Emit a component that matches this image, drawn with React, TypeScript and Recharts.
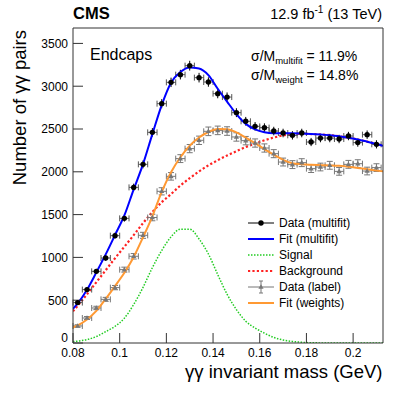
import React from "react";
import { ComposedChart, Line, Scatter, XAxis, YAxis, ErrorBar } from "recharts";

// binned data (bin width 0.004 GeV)
const binCenters = [
  0.082, 0.086, 0.09, 0.094, 0.098, 0.102, 0.106, 0.11, 0.114, 0.118, 0.122,
  0.126, 0.13, 0.134, 0.138, 0.142, 0.146, 0.15, 0.154, 0.158, 0.162, 0.166,
  0.17, 0.174, 0.178, 0.182, 0.186, 0.19, 0.194, 0.198, 0.202, 0.206, 0.21,
];
const binHalfWidth = 0.002;
const multifitCounts = [
  472, 624, 837, 993, 1254, 1456, 1818, 2087, 2461, 2796, 3045, 3135, 3240,
  3100, 3049, 2913, 2873, 2691, 2590, 2531, 2516, 2476, 2453, 2426, 2453, 2348,
  2394, 2394, 2383, 2418, 2341, 2434, 2321,
];
const multifitErrors = [
  22, 25, 29, 32, 35, 38, 43, 46, 50, 53, 55, 56, 57, 56, 55, 54, 54, 52, 51,
  50, 50, 50, 50, 49, 50, 48, 49, 49, 49, 49, 48, 49, 48,
];
const labelCounts = [
  199, 292, 409, 510, 647, 857, 1013, 1258, 1466, 1772, 1947, 2154, 2271, 2368,
  2473, 2484, 2476, 2407, 2364, 2336, 2278, 2212, 2114, 2084, 2107, 2037, 2056,
  2076, 2005, 2087, 2095, 2009, 2049,
];
const labelErrors = [
  14, 17, 20, 23, 25, 29, 32, 35, 38, 42, 44, 46, 48, 49, 50, 50, 50, 49, 49,
  48, 48, 47, 46, 46, 46, 45, 45, 46, 45, 46, 46, 45, 45,
];

// fitted curves
const curveX = [
  0.08, 0.082, 0.086, 0.09, 0.094, 0.098, 0.102, 0.106, 0.11, 0.114, 0.118,
  0.122, 0.126, 0.13, 0.134, 0.138, 0.142, 0.146, 0.15, 0.154, 0.158, 0.162,
  0.166, 0.17, 0.174, 0.178, 0.182, 0.186, 0.19, 0.194, 0.198, 0.202, 0.206,
  0.21, 0.2128,
];
const fitMultifit = [
  400, 462, 622, 825, 1035, 1262, 1490, 1795, 2090, 2440, 2780, 3040, 3165,
  3218, 3208, 3130, 2970, 2820, 2675, 2560, 2495, 2462, 2450, 2450, 2450, 2447,
  2443, 2437, 2428, 2415, 2398, 2378, 2352, 2325, 2305,
];
const signalCurve = [
  15, 22, 40, 75, 132, 195, 290, 450, 650, 880, 1080, 1240, 1330, 1330, 1215,
  1040, 800, 570, 390, 255, 175, 115, 65, 35, 18, 8, 3, 1, 0, 0, 0, 0, 0, 0, 0,
];
const backgroundCurve = [
  370, 435, 570, 710, 850, 990, 1125, 1260, 1400, 1530, 1645, 1740, 1840, 1925,
  2005, 2075, 2135, 2190, 2240, 2290, 2330, 2368, 2400, 2425, 2440, 2443, 2441,
  2436, 2428, 2415, 2398, 2378, 2352, 2325, 2305,
];
const fitWeights = [
  180, 205, 275, 375, 515, 665, 820, 1005, 1235, 1480, 1765, 1995, 2170, 2305,
  2400, 2465, 2500, 2498, 2460, 2400, 2335, 2265, 2200, 2140, 2100, 2088, 2082,
  2078, 2075, 2070, 2060, 2045, 2030, 2015, 2005,
];

const xMajorTicks = [0.08, 0.1, 0.12, 0.14, 0.16, 0.18, 0.2];
const xMinorTicks = [
  0.085, 0.09, 0.095, 0.105, 0.11, 0.115, 0.125, 0.13, 0.135, 0.145, 0.15,
  0.155, 0.165, 0.17, 0.175, 0.185, 0.19, 0.195, 0.205, 0.21,
];
const yMajorTicks = [0, 500, 1000, 1500, 2000, 2500, 3000, 3500];
const yMinorTicks = [
  100, 200, 300, 400, 600, 700, 800, 900, 1100, 1200, 1300, 1400, 1600, 1700,
  1800, 1900, 2100, 2200, 2300, 2400, 2600, 2700, 2800, 2900, 3100, 3200, 3300,
  3400, 3600,
];

const X_DOMAIN: [number, number] = [0.08, 0.2128];
const Y_DOMAIN: [number, number] = [0, 3680];
const FONT = "'Liberation Sans', Arial, Helvetica, sans-serif";
const AXIS = "#333";

const multifitData = binCenters.map((x, i) => ({
  x,
  y: multifitCounts[i],
  ex: binHalfWidth,
  ey: multifitErrors[i],
}));
const labelData = binCenters.map((x, i) => ({
  x,
  y: labelCounts[i],
  ex: binHalfWidth,
  ey: labelErrors[i],
}));
const curveData = curveX.map((x, i) => ({
  x,
  fitM: fitMultifit[i],
  sig: signalCurve[i],
  bkg: backgroundCurve[i],
  fitW: fitWeights[i],
}));

const BlackDot = (p: any) => <circle cx={p.cx} cy={p.cy} r={2.7} fill="#000" />;
const GrayTri = (p: any) => (
  <polygon
    points={`${p.cx},${p.cy - 2.8} ${p.cx - 2.6},${p.cy + 1.8} ${p.cx + 2.6},${p.cy + 1.8}`}
    fill="#777"
  />
);

// y tick labels; the "0" sits a bit higher so it clears "0.08"
const YTick = (p: any) => (
  <text
    x={p.x}
    y={p.y}
    dy={p.payload.value === 0 ? -1 : 4.3}
    textAnchor="end"
    fontSize={12}
    fontFamily={FONT}
    fill="#000"
  >
    {p.payload.value}
  </text>
);

function Overlay() {
  const rows = [223, 239, 255, 271, 287, 303];
  const x0 = 248;
  const x1 = 274;
  const xm = (x0 + x1) / 2;
  return (
    <svg
      width={407}
      height={393}
      style={{ position: "absolute", left: 0, top: 0, pointerEvents: "none" }}
      fontFamily={FONT}
    >
      <text x={73} y={19} fontSize={16.5} fontWeight="bold">CMS</text>
      <text x={382} y={19} fontSize={14.5} textAnchor="end">
        12.9 fb<tspan dy={-6} fontSize={10}>-1</tspan>
        <tspan dy={6}> (13 TeV)</tspan>
      </text>
      <text x={90} y={60} fontSize={16}>Endcaps</text>
      <text x={251} y={61} fontSize={14}>
        σ/M<tspan dy={3} fontSize={9.5}>multifit</tspan>
        <tspan dy={-3}> = 11.9%</tspan>
      </text>
      <text x={251} y={80} fontSize={14}>
        σ/M<tspan dy={3} fontSize={9.5}>weight</tspan>
        <tspan dy={-3}> = 14.8%</tspan>
      </text>

      {/* legend */}
      <line x1={x0} x2={x1} y1={rows[0]} y2={rows[0]} stroke="#000" strokeWidth={1} />
      <circle cx={xm} cy={rows[0]} r={2.7} fill="#000" />
      <line x1={x0} x2={x1} y1={rows[1]} y2={rows[1]} stroke="#0000ff" strokeWidth={2} />
      <line x1={x0} x2={x1} y1={rows[2]} y2={rows[2]} stroke="#22cc22" strokeWidth={1.5} strokeDasharray="1.5 1.5" />
      <line x1={x0} x2={x1} y1={rows[3]} y2={rows[3]} stroke="#ff2222" strokeWidth={2.2} strokeDasharray="2.2 2.2" />
      <line x1={x0} x2={x1} y1={rows[4]} y2={rows[4]} stroke="#777" strokeWidth={1} />
      <line x1={xm} x2={xm} y1={rows[4] - 6} y2={rows[4] + 6} stroke="#777" strokeWidth={1} />
      <line x1={xm - 2} x2={xm + 2} y1={rows[4] - 6} y2={rows[4] - 6} stroke="#777" strokeWidth={1} />
      <line x1={xm - 2} x2={xm + 2} y1={rows[4] + 6} y2={rows[4] + 6} stroke="#777" strokeWidth={1} />
      <GrayTri cx={xm} cy={rows[4]} />
      <line x1={x0} x2={x1} y1={rows[5]} y2={rows[5]} stroke="#ff9933" strokeWidth={2} />
      {["Data (multifit)", "Fit (multifit)", "Signal", "Background", "Data (label)", "Fit (weights)"].map(
        (t, i) => (
          <text key={t} x={279} y={rows[i] + 4.3} fontSize={12}>
            {t}
          </text>
        )
      )}

      {/* axis titles */}
      <text x={382.5} y={378} fontSize={18.5} textAnchor="end">γγ invariant mass (GeV)</text>
      <text x={26} y={30} fontSize={18.5} textAnchor="end" transform="rotate(-90 26 30)">
        Number of γγ pairs
      </text>
    </svg>
  );
}

export default function App() {
  const tickStyle = { fill: "#000", fontSize: 12, fontFamily: FONT };
  const frame = { type: "number" as const, allowDataOverflow: true, interval: 0 as const, stroke: AXIS, tick: false, mirror: true };
  return (
    <div style={{ position: "absolute", left: 0, top: 0, width: 407, height: 393, background: "#fff" }}>
      <ComposedChart
        width={407}
        height={393}
        data={curveData}
        margin={{ top: 28, right: 24, bottom: 20, left: 13 }}
      >
        <XAxis
          xAxisId="x"
          dataKey="x"
          type="number"
          domain={X_DOMAIN}
          allowDataOverflow
          ticks={xMajorTicks}
          interval={0}
          tickSize={-10}
          tickMargin={15}
          height={30}
          stroke={AXIS}
          tick={tickStyle}
          tickFormatter={(v: number) => `${+v.toFixed(3)}`}
        />
        <XAxis xAxisId="xm" {...frame} domain={X_DOMAIN} ticks={xMinorTicks} tickSize={5} axisLine={false} height={1} />
        <XAxis xAxisId="xt" orientation="top" {...frame} domain={X_DOMAIN} ticks={xMajorTicks} tickSize={10} height={1} />
        <XAxis xAxisId="xtm" orientation="top" {...frame} domain={X_DOMAIN} ticks={xMinorTicks} tickSize={5} axisLine={false} height={1} />
        <YAxis
          yAxisId="y"
          type="number"
          domain={Y_DOMAIN}
          allowDataOverflow
          ticks={yMajorTicks}
          interval={0}
          tickSize={-10}
          tickMargin={15}
          width={60}
          stroke={AXIS}
          tick={YTick}
        />
        <YAxis yAxisId="ym" {...frame} domain={Y_DOMAIN} ticks={yMinorTicks} tickSize={5} axisLine={false} width={1} />
        <YAxis yAxisId="yr" orientation="right" {...frame} domain={Y_DOMAIN} ticks={yMajorTicks} tickSize={10} width={1} />
        <YAxis yAxisId="yrm" orientation="right" {...frame} domain={Y_DOMAIN} ticks={yMinorTicks} tickSize={5} axisLine={false} width={1} />

        <Line xAxisId="x" yAxisId="y" dataKey="sig" type="monotone" stroke="#22cc22" strokeWidth={1.5}
          strokeDasharray="1.5 1.5" dot={false} isAnimationActive={false} />
        <Line xAxisId="x" yAxisId="y" dataKey="bkg" type="monotone" stroke="#ff2222" strokeWidth={2.2}
          strokeDasharray="2.2 2.2" dot={false} isAnimationActive={false} />
        <Scatter xAxisId="x" yAxisId="y" data={labelData} dataKey="y" shape={GrayTri} isAnimationActive={false}>
          <ErrorBar dataKey="ex" direction="x" width={3} stroke="#777" strokeWidth={1} />
          <ErrorBar dataKey="ey" direction="y" width={3} stroke="#777" strokeWidth={1} />
        </Scatter>
        <Line xAxisId="x" yAxisId="y" dataKey="fitW" type="monotone" stroke="#ff9933" strokeWidth={2}
          dot={false} isAnimationActive={false} />
        <Scatter xAxisId="x" yAxisId="y" data={multifitData} dataKey="y" shape={BlackDot} isAnimationActive={false}>
          <ErrorBar dataKey="ex" direction="x" width={3} stroke="#555" strokeWidth={1} />
          <ErrorBar dataKey="ey" direction="y" width={0} stroke="#000" strokeWidth={1} />
        </Scatter>
        <Line xAxisId="x" yAxisId="y" dataKey="fitM" type="monotone" stroke="#0000ff" strokeWidth={2}
          dot={false} isAnimationActive={false} />
      </ComposedChart>
      <Overlay />
    </div>
  );
}
